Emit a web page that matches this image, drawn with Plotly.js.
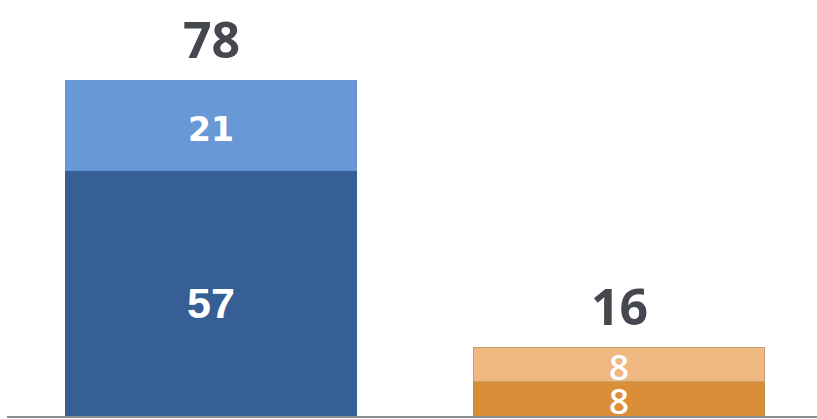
<!DOCTYPE html>
<html>
<head>
<meta charset="utf-8">
<script src="https://cdn.plot.ly/plotly-3.0.1.min.js"></script>
<style>
  html, body { margin: 0; padding: 0; background: #ffffff; }
  #chart { width: 817px; height: 419px; }
</style>
</head>
<body>
<div id="chart"></div>
<script>
// ---- data ----
const categories = ["A", "B"];
const lowerValues = [57, 8];
const upperValues = [21, 8];
const lowerColors = ["#365f96", "#db8e38"];
const upperColors = ["#6898d6", "#efb880"];
const lowerLineColors = ["#365f96", "#c08a4c"];
const upperLineColors = ["#6393d0", "#c8a070"];
const totals = lowerValues.map((v, i) => v + upperValues[i]);

// label styling (not data)
const lowerFonts = [
  { family: "Liberation Sans, Arial, sans-serif", size: 43, color: "#ffffff", weight: "bold" },
  { family: "Open Sans, sans-serif", size: 35, color: "#ffffff", weight: 600 }
];
const upperFonts = [
  { family: "DejaVu Sans, sans-serif", size: 33, color: "#ffffff", weight: "bold" },
  { family: "Open Sans, sans-serif", size: 35, color: "#ffffff", weight: 600 }
];
const lowerShift = [-10, -2];
const upperShift = [-4, -2];

const lower = {
  type: "bar", x: categories, y: lowerValues,
  marker: { color: lowerColors, line: { color: lowerLineColors, width: 1 } },
  hoverinfo: "none"
};
const upper = {
  type: "bar", x: categories, y: upperValues,
  marker: { color: upperColors, line: { color: upperLineColors, width: 1 } },
  hoverinfo: "none"
};

const annotations = [];
categories.forEach((c, i) => {
  annotations.push({
    x: c, y: lowerValues[i] / 2, xref: "x", yref: "y",
    text: String(lowerValues[i]), showarrow: false,
    yanchor: "middle", yshift: lowerShift[i], font: lowerFonts[i]
  });
  annotations.push({
    x: c, y: lowerValues[i] + upperValues[i] / 2, xref: "x", yref: "y",
    text: String(upperValues[i]), showarrow: false,
    yanchor: "middle", yshift: upperShift[i], font: upperFonts[i]
  });
  annotations.push({
    x: c, y: totals[i], xref: "x", yref: "y",
    text: String(totals[i]), showarrow: false,
    yanchor: "middle", yshift: 41,
    font: { family: "Open Sans, sans-serif", size: 50, color: "#45484f", weight: "bold" }
  });
});

const layout = {
  width: 817, height: 419,
  margin: { l: 7, r: 0, t: 0, b: 3, pad: 0 },
  paper_bgcolor: "#ffffff",
  plot_bgcolor: "rgba(0,0,0,0)",
  barmode: "stack",
  bargap: 0.289,
  showlegend: false,
  xaxis: {
    type: "category",
    range: [-0.5, 1.4853],
    showticklabels: false, ticks: "", showgrid: false, zeroline: false,
    showline: true, linecolor: "#8c8c8c", linewidth: 2
  },
  yaxis: {
    range: [0, 96.57],
    showticklabels: false, ticks: "", showgrid: false, zeroline: false, showline: false
  },
  annotations: annotations
};

Plotly.newPlot("chart", [lower, upper], layout, { staticPlot: true, displayModeBar: false });
</script>
</body>
</html>
